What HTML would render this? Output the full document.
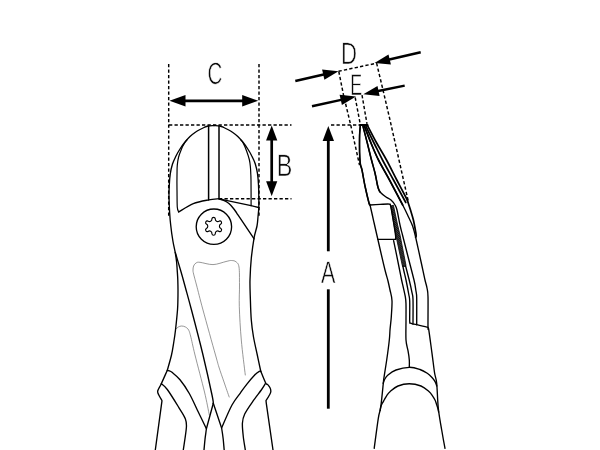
<!DOCTYPE html>
<html lang="en"><head><meta charset="utf-8"><title>Side cutter dimensions</title>
<style>html,body{margin:0;padding:0;background:#fff}body{width:600px;height:450px;overflow:hidden}svg{display:block}</style>
</head><body>
<svg role="img" aria-label="Side cutter dimension drawing with dimensions A, B, C, D and E" width="600" height="450" viewBox="0 0 600 450">
<rect width="600" height="450" fill="#fff"/>
<g fill="none" stroke="#000" stroke-width="1.45" stroke-dasharray="3.3 2.2">
<path d="M168.7,64.0L168.7,216.0"/>
<path d="M259.0,64.0L259.0,216.7"/>
<path d="M169.0,125.0L291.5,125.0"/>
<path d="M219.0,198.7L291.5,198.7"/>
<path d="M331.0,125.0L360.0,125.0"/>
<path d="M338.5,71.3L376.6,63.2"/>
<path d="M338.8,71.5L343.5,95.0L350.7,125.0L359.5,165.0"/>
<path d="M376.6,63.2L383.0,90.0L390.0,120.0L399.0,160.0L408.2,201.0"/>
<path d="M355.2,97.5L360.2,123.9"/>
<path d="M362.0,95.0L367.0,123.9"/>
</g>
<g fill="none" stroke="#6a6a6a" stroke-linecap="round">
<path d="M229.2,397.0C228.3,394.5 225.7,387.0 224.0,382.0C222.3,377.0 220.3,371.5 218.9,367.0C217.5,362.5 218.2,364.5 215.5,355.0C212.8,345.5 206.2,321.7 203.0,310.0C199.8,298.3 198.1,291.0 196.5,285.0C194.9,279.0 194.2,276.5 193.6,274.0C193.0,271.5 193.0,271.3 193.0,270.0C193.0,268.7 193.1,267.2 193.6,266.0C194.1,264.8 194.9,263.6 196.0,263.0C197.1,262.4 197.2,262.0 200.0,262.3C202.8,262.6 208.7,264.7 213.0,264.6C217.3,264.5 222.9,262.2 226.0,261.5C229.1,260.8 229.8,260.4 231.5,260.5C233.2,260.6 234.8,260.7 236.0,261.8C237.2,262.9 238.4,263.1 239.0,267.0C239.6,270.9 239.4,278.4 239.5,285.0C239.6,291.6 239.0,297.5 239.3,306.7C239.6,315.9 240.3,328.6 241.3,340.0C242.3,351.4 244.6,369.2 245.3,375.0" stroke-width="0.7"/>
<path d="M176.0,329.0C176.4,328.7 177.4,327.5 178.3,327.0C179.2,326.5 180.3,326.0 181.5,326.0C182.7,326.0 184.3,326.3 185.5,327.0C186.7,327.7 187.8,328.5 188.6,330.0C189.4,331.5 189.5,331.8 190.6,336.0C191.7,340.2 192.7,345.7 195.0,355.0C197.3,364.3 202.1,382.0 204.5,392.0C206.9,402.0 208.5,411.2 209.3,415.0" stroke-width="0.7"/>
</g>
<defs><pattern id="hatch" width="1.5" height="1.5" patternUnits="userSpaceOnUse" patternTransform="rotate(-38)"><rect width="1.5" height="1.5" fill="#555"/><rect width="1.5" height="0.95" fill="#111"/></pattern></defs>
<g fill="url(#hatch)" stroke="#111" stroke-width="0.9" stroke-linejoin="round">
<path d="M390.8,206 L393.4,205.3 L397.6,225 L400,235 L405.9,265 L405.5,266.4 L402.6,266.4 L402.2,265 L395.8,235 L394,225 Z"/>
</g>
<g fill="none" stroke="#000" stroke-linecap="round" stroke-linejoin="round">
<path d="M214.0,125.5C213.0,125.6 209.7,125.7 208.0,126.0C206.3,126.3 205.3,126.9 204.0,127.5C202.7,128.1 201.5,128.7 200.0,129.5C198.5,130.3 196.7,131.3 195.0,132.5C193.3,133.7 191.7,134.9 190.0,136.5C188.3,138.1 186.7,139.9 185.0,142.0C183.3,144.1 181.5,146.7 180.0,149.0C178.5,151.3 177.2,153.5 176.0,156.0C174.8,158.5 173.4,161.1 172.5,164.0C171.6,166.9 170.8,170.2 170.3,173.7C169.8,177.2 169.5,181.2 169.3,185.0C169.1,188.8 168.9,192.2 169.0,196.7C169.1,201.2 169.3,207.3 169.6,212.0C169.9,216.7 170.1,220.2 170.7,225.0C171.2,229.8 172.1,236.3 172.9,241.0C173.7,245.7 174.7,249.5 175.3,253.0C175.9,256.5 176.3,259.2 176.6,262.0C176.9,264.8 177.0,267.0 177.2,270.0C177.4,273.0 177.7,276.7 177.8,280.0C177.9,283.3 178.0,286.7 178.0,290.0C178.0,293.3 178.0,296.7 177.9,300.0C177.8,303.3 177.9,305.0 177.5,310.0C177.1,315.0 176.1,324.7 175.5,330.0C174.9,335.3 174.5,337.8 173.8,342.0C173.1,346.2 172.6,350.3 171.5,355.0C170.4,359.7 168.0,367.8 167.3,370.3" stroke-width="1.35"/>
<path d="M214.0,125.5C215.0,125.6 218.2,125.7 219.8,126.0C221.4,126.3 222.5,126.9 223.8,127.5C225.1,128.1 226.3,128.7 227.8,129.5C229.3,130.3 231.1,131.3 232.8,132.5C234.5,133.7 236.1,134.9 237.8,136.5C239.5,138.1 241.1,139.9 242.8,142.0C244.5,144.1 246.3,146.7 247.8,149.0C249.3,151.3 250.6,153.5 251.8,156.0C253.1,158.5 254.4,161.1 255.3,164.0C256.2,166.9 257.0,170.2 257.5,173.7C258.0,177.2 258.3,181.2 258.5,185.0C258.7,188.8 258.8,192.9 258.8,196.7C258.9,200.5 258.9,204.4 258.8,207.7C258.7,211.0 258.3,213.6 258.0,216.7C257.7,219.8 257.7,222.4 257.0,226.0C256.3,229.6 254.9,232.9 254.0,238.3C253.1,243.7 252.0,251.4 251.3,258.3C250.6,265.2 250.2,273.1 250.0,280.0C249.8,286.9 250.2,293.3 250.4,300.0C250.6,306.7 250.8,313.8 251.3,320.0C251.8,326.2 252.5,331.2 253.5,337.0C254.5,342.8 256.1,349.3 257.3,355.0C258.5,360.7 260.1,368.3 260.7,371.0" stroke-width="1.35"/>
<path d="M187.0,139.8C186.6,140.4 185.2,142.0 184.3,143.5C183.4,145.0 182.4,146.8 181.5,149.0C180.6,151.2 179.3,154.3 178.6,157.0C177.9,159.7 177.6,162.0 177.3,165.0C177.0,168.0 177.1,170.8 177.0,175.0C176.9,179.2 176.9,184.6 177.0,190.0C177.1,195.4 177.0,203.6 177.3,207.3C177.6,211.0 178.5,211.2 178.7,212.0" stroke-width="1.2"/>
<path d="M240.8,139.8C241.2,140.4 242.3,141.3 243.3,143.2C244.3,145.1 245.6,148.3 246.6,151.0C247.6,153.7 248.7,157.0 249.3,159.5C249.9,162.0 250.1,163.6 250.3,166.0C250.6,168.4 250.7,171.7 250.8,174.0C250.9,176.3 250.9,174.7 251.0,180.0C251.1,185.3 251.1,201.4 251.1,205.7" stroke-width="1.2"/>
<path d="M178.7,212.0C181.1,210.6 188.3,205.6 193.3,203.6C198.3,201.6 204.3,200.7 208.6,199.9C212.9,199.1 217.3,198.9 219.0,198.7" stroke-width="1.35"/>
<path d="M219.0,198.8C219.7,199.0 221.6,199.6 223.0,200.2C224.4,200.8 225.9,201.5 227.2,202.3C228.4,203.1 229.5,204.0 230.5,205.0C231.5,206.0 232.4,207.2 233.3,208.3C234.2,209.4 235.0,210.5 235.7,211.5C236.4,212.5 237.0,213.5 237.6,214.4C238.2,215.3 239.2,216.7 239.5,217.2L254.1,238.9" stroke-width="1.35"/>
<path d="M219.0,198.8L251.1,205.7L258.6,207.5" stroke-width="1.35"/>
<path d="M208.6,126.0L208.6,200.0" stroke-width="1.5"/>
<path d="M219.0,126.0L219.0,198.7" stroke-width="1.5"/>
<path d="M175.3,252.5C176.2,255.4 178.9,264.6 180.5,270.0C182.1,275.4 182.9,278.3 184.7,285.0C186.5,291.7 188.4,298.3 191.5,310.0C194.6,321.7 199.6,340.8 203.0,355.0C206.4,369.2 210.3,386.9 212.0,395.0C213.7,403.1 213.1,401.9 213.3,403.3" stroke-width="1.35"/>
<path d="M213.3,403.3L221.6,428.0L221.6,428.0C221.9,429.8 222.8,435.3 223.2,439.0C223.6,442.7 224.0,448.2 224.2,450.0" stroke-width="1.35"/>
<path d="M213.3,403.3L206.4,428.8L206.4,428.8C206.2,430.6 205.4,435.8 205.0,439.3C204.6,442.8 204.2,448.2 204.0,450.0" stroke-width="1.35"/>
<path d="M167.5,370.6C167.8,370.7 168.8,370.6 169.5,370.9C170.2,371.2 170.2,370.8 172.0,372.3C173.8,373.8 177.1,376.2 180.0,379.7C182.9,383.2 186.4,388.4 189.3,393.5C192.2,398.6 194.5,404.1 197.3,410.0C200.2,415.9 204.9,425.7 206.4,428.8" stroke-width="1.35"/>
<path d="M161.3,383.7C162.3,384.7 164.4,385.6 167.3,389.5C170.2,393.4 175.7,402.4 178.7,407.3C181.7,412.2 184.0,415.4 185.3,418.7C186.6,422.0 186.7,422.1 186.4,427.3C186.1,432.5 183.8,446.2 183.3,450.0" stroke-width="1.35"/>
<path d="M167.3,370.3C166.3,372.5 162.8,380.5 161.3,383.7C159.8,386.9 158.8,388.1 158.2,389.7C157.6,391.2 157.3,391.2 157.9,393.0C158.5,394.8 161.3,399.4 162.0,400.7L155.3,450" stroke-width="1.35"/>
<path d="M260.9,371.6C260.6,371.6 260.3,370.7 259.3,371.3C258.3,371.9 256.8,372.8 254.7,375.0C252.6,377.2 249.1,381.3 246.7,384.3C244.3,387.3 242.9,389.4 240.5,392.8C238.1,396.2 235.2,399.1 232.0,405.0C228.8,410.9 223.3,424.2 221.6,428.0" stroke-width="1.35"/>
<path d="M265.3,383.7C264.6,384.8 263.3,387.2 261.3,390.0C259.3,392.8 256.1,396.7 253.3,400.7C250.5,404.7 246.5,410.2 244.7,414.0C242.9,417.8 242.6,419.5 242.4,423.3C242.2,427.1 242.8,432.2 243.3,436.7C243.8,441.1 245.0,447.8 245.3,450.0" stroke-width="1.35"/>
<path d="M260.7,371.0C261.5,373.0 264.6,380.8 265.7,383.0C266.8,385.2 266.8,383.6 267.5,384.4C268.2,385.2 269.4,386.5 270.0,387.7C270.6,388.9 270.9,390.4 270.8,391.7C270.7,393.0 270.1,393.8 269.3,395.3C268.5,396.8 266.6,399.8 266.0,400.7L266.3,403.3L273,450" stroke-width="1.35"/>
<path d="M360.0,124.9L367.5,124.9" stroke-width="2.0"/>
<path d="M360.3,125.7C360.2,127.2 359.7,131.8 359.6,135.0C359.5,138.2 359.5,141.2 359.5,145.0C359.5,148.8 359.6,154.7 359.8,158.0C360.0,161.3 360.1,163.0 360.5,165.0C360.9,167.0 361.2,166.3 362.0,170.0C362.8,173.7 364.0,181.5 365.2,187.0C366.4,192.5 368.2,200.0 369.0,203.0C369.8,206.0 369.2,201.8 370.0,205.0C370.8,208.2 372.7,216.7 374.0,222.5C375.3,228.3 376.2,232.1 378.0,240.0C379.8,247.9 383.3,263.2 385.0,270.0C386.7,276.8 387.2,277.7 388.0,281.0C388.8,284.3 389.3,286.7 390.0,290.0C390.7,293.3 391.8,296.2 392.0,300.7C392.2,305.1 391.6,311.8 391.3,316.7C391.0,321.6 390.3,326.1 390.0,330.0C389.7,333.9 389.9,335.0 389.3,340.0C388.8,345.0 387.6,353.8 386.7,360.0C385.8,366.2 384.6,373.4 384.0,377.3C383.4,381.2 383.8,378.4 383.3,383.3C382.8,388.2 381.6,400.9 380.8,406.7C380.0,412.5 379.4,411.4 378.3,418.3C377.2,425.2 374.9,443.3 374.2,448.3" stroke-width="1.35"/>
<path d="M360.3,125.7C360.2,127.2 359.7,131.8 359.6,135.0C359.5,138.2 359.5,141.2 359.5,145.0C359.5,148.8 359.6,154.7 359.8,158.0C360.0,161.3 360.1,163.0 360.5,165.0C360.9,167.0 361.2,166.3 362.0,170.0C362.8,173.7 364.0,181.5 365.2,187.0C366.4,192.5 368.2,200.0 369.0,203.0C369.8,206.0 369.8,204.7 370.0,205.0" stroke-width="1.55"/>
<path d="M363.0,126.3C363.7,129.1 365.9,137.4 367.3,143.0C368.7,148.6 370.2,155.0 371.5,160.0C372.8,165.0 374.1,169.2 375.0,173.0C375.9,176.8 376.5,180.5 377.0,183.0C377.5,185.5 377.7,186.5 378.2,188.0C378.7,189.5 378.7,190.5 380.0,192.0C381.3,193.5 384.2,195.7 386.0,197.0C387.8,198.3 389.5,198.7 391.0,200.0C392.5,201.3 394.0,203.3 395.0,205.0C396.0,206.7 396.2,206.7 397.0,210.0C397.8,213.3 399.1,220.8 400.0,225.0C400.9,229.2 401.2,230.0 402.5,235.0C403.8,240.0 405.7,247.5 407.6,255.0C409.5,262.5 412.6,274.2 414.0,280.0C415.4,285.8 415.4,287.0 415.8,290.0C416.2,293.0 416.6,292.2 416.7,298.0C416.8,303.8 416.7,320.2 416.7,324.7" stroke-width="1.35"/>
<path d="M363.0,126.3C363.7,129.1 365.9,137.4 367.3,143.0C368.7,148.6 370.2,155.0 371.5,160.0C372.8,165.0 374.1,169.2 375.0,173.0C375.9,176.8 376.5,180.5 377.0,183.0C377.5,185.5 377.7,186.5 378.2,188.0C378.7,189.5 379.7,191.3 380.0,192.0" stroke-width="1.55"/>
<path d="M364.5,126.3C365.6,129.1 368.7,137.4 371.0,143.0C373.3,148.6 375.4,153.8 378.5,160.0C381.6,166.2 385.5,172.5 389.5,180.0C393.5,187.5 399.7,199.2 402.7,205.0C405.7,210.8 406.0,211.5 407.6,215.0C409.2,218.5 411.3,222.3 412.6,226.0C413.9,229.7 414.2,231.0 415.6,237.0C417.0,243.0 419.5,254.8 421.1,262.0C422.7,269.2 424.0,275.7 425.0,280.0C426.0,284.3 426.5,285.2 427.0,288.0C427.5,290.8 427.8,290.1 428.0,296.7C428.2,303.2 427.9,321.9 428.0,327.3C428.1,332.7 428.0,325.0 428.7,329.3C429.4,333.6 431.0,346.0 432.0,353.3C433.0,360.6 433.8,368.0 434.6,373.0C435.4,378.0 436.1,377.4 436.7,383.3C437.3,389.2 437.5,400.5 438.3,408.3C439.1,416.1 440.6,423.3 441.7,430.0C442.8,436.7 444.4,445.2 445.0,448.3" stroke-width="1.35"/>
<path d="M364.5,126.3C365.6,129.1 368.7,137.4 371.0,143.0C373.3,148.6 375.4,153.8 378.5,160.0C381.6,166.2 385.5,172.5 389.5,180.0C393.5,187.5 400.5,200.8 402.7,205.0" stroke-width="1.7"/>
<path d="M366.0,126.3C367.3,129.1 371.2,137.4 374.0,143.0C376.8,148.6 379.2,153.8 382.5,160.0C385.8,166.2 389.6,172.9 393.5,180.0C397.4,187.1 403.8,198.8 405.8,202.5" stroke-width="1.7"/>
<path d="M367.5,125.5C369.0,128.4 373.5,137.2 376.7,143.0C379.9,148.8 383.1,153.8 386.5,160.0C389.9,166.2 393.3,173.3 396.8,180.0C400.3,186.7 405.6,196.7 407.3,200.0" stroke-width="1.7"/>
<path d="M407.3,200.0C407.8,201.7 409.5,206.7 410.5,210.0C411.5,213.3 412.5,216.2 413.4,220.0C414.3,223.8 415.4,230.2 415.9,233.0C416.3,235.8 416.1,235.9 416.1,236.5L415.6,237.2" stroke-width="1.7"/>
<path d="M370.0,205.0C371.7,204.9 377.0,204.6 380.0,204.4C383.0,204.2 386.4,204.0 388.0,204.0C389.6,204.0 389.4,204.2 389.8,204.5C390.2,204.8 390.0,202.6 390.7,206.0C391.4,209.4 393.2,220.0 394.0,225.0C394.8,230.0 395.4,233.6 395.6,236.0C395.9,238.4 395.5,238.8 395.5,239.4" stroke-width="1.35"/>
<path d="M378.0,239.4L395.4,239.4" stroke-width="1.35"/>
<path d="M393.6,240.6C394.5,245.0 397.7,260.4 399.0,267.0C400.3,273.6 400.6,275.1 401.6,280.0C402.7,284.9 404.6,292.6 405.3,296.7C406.0,300.8 405.9,300.7 406.0,304.7C406.1,308.7 406.0,314.8 406.0,320.7C406.0,326.6 405.7,335.0 406.0,340.0C406.3,345.0 407.4,347.4 408.0,350.7C408.6,354.0 409.1,357.2 409.3,360.0C409.5,362.8 409.3,366.1 409.3,367.3" stroke-width="1.35"/>
<path d="M402.8,266.0C403.0,266.8 403.4,268.7 403.9,271.0C404.4,273.3 405.2,276.2 406.0,280.0C406.8,283.8 408.1,290.6 408.7,294.0C409.3,297.4 409.5,296.2 409.7,300.7C409.9,305.2 409.6,317.3 409.7,321.0C409.8,324.7 410.0,322.5 410.5,323.0C411.0,323.5 411.5,323.5 412.5,323.8C413.5,324.1 414.1,324.1 416.7,324.7C419.3,325.3 426.1,326.9 428.0,327.3" stroke-width="1.35"/>
<path d="M405.6,266.0C405.8,266.8 406.3,268.7 406.9,271.0C407.5,273.3 408.3,276.4 409.2,280.0C410.1,283.6 411.4,289.5 412.0,292.7C412.6,295.9 412.8,294.1 413.0,299.3C413.2,304.5 413.0,319.9 413.0,324.0" stroke-width="1.35"/>
<path d="M383.2,383.5C383.4,382.8 383.8,380.9 384.6,379.5C385.4,378.1 386.1,376.6 388.0,375.0C389.9,373.4 392.4,371.3 396.0,370.0C399.6,368.7 405.3,367.4 409.3,367.3C413.3,367.2 417.0,368.5 420.0,369.5C423.0,370.5 425.3,372.0 427.3,373.3C429.3,374.6 430.7,376.1 432.0,377.5C433.3,378.9 434.4,380.4 435.2,381.8C436.0,383.2 436.5,385.3 436.8,386.0" stroke-width="1.35"/>
<path d="M380.2,410.5C380.3,409.9 380.4,407.9 380.8,406.7C381.2,405.5 381.7,404.4 382.3,403.3C382.9,402.2 383.5,401.2 384.2,400.0C384.9,398.8 385.6,397.2 386.6,395.8C387.6,394.4 388.1,393.3 390.0,391.7C391.9,390.1 394.8,387.3 398.0,386.0C401.2,384.7 405.4,383.7 409.2,383.7C413.0,383.7 417.7,384.7 421.0,386.0C424.3,387.3 427.3,390.1 429.2,391.7C431.1,393.3 431.5,394.4 432.5,395.8C433.5,397.2 434.3,398.6 435.0,400.0C435.7,401.4 436.0,402.8 436.5,404.2C437.0,405.6 437.4,407.0 437.8,408.3C438.2,409.6 438.5,411.4 438.6,412.0" stroke-width="1.35"/>
<circle cx="213.9" cy="226.7" r="17.7" stroke-width="1.35"/>
<path d="M211.91,218.89A1.70,1.70 0 0 1 215.29,218.89A2.45,2.45 0 0 0 219.18,221.13A1.70,1.70 0 0 1 220.87,224.06A2.45,2.45 0 0 0 220.87,228.54A1.70,1.70 0 0 1 219.18,231.47A2.45,2.45 0 0 0 215.29,233.71A1.70,1.70 0 0 1 211.91,233.71A2.45,2.45 0 0 0 208.02,231.47A1.70,1.70 0 0 1 206.33,228.54A2.45,2.45 0 0 0 206.33,224.06A1.70,1.70 0 0 1 208.02,221.13A2.45,2.45 0 0 0 211.91,218.89Z" stroke-width="1.15"/>
</g>
<g fill="#000" stroke="none">
<polygon points="169.5,100.8 185.5,106.5 185.5,95.1"/>
<polygon points="258.2,100.8 242.2,106.5 242.2,95.1"/>
<line x1="183.9" y1="100.8" x2="243.8" y2="100.8" stroke="#000" stroke-width="2.65"/>
<polygon points="271.7,125.5 266.1,140.5 277.3,140.5"/>
<polygon points="271.7,196.2 266.1,181.2 277.3,181.2"/>
<line x1="271.7" y1="139.0" x2="271.7" y2="182.7" stroke="#000" stroke-width="2.7"/>
<polygon points="328.3,126.0 334.0,141.0 322.6,141.0"/>
<line x1="328.3" y1="251.3" x2="328.3" y2="139.5" stroke="#000" stroke-width="2.8"/>
<line x1="328.3" y1="289.3" x2="328.3" y2="408.7" stroke="#000" stroke-width="2.8"/>
<polygon points="338.5,71.2 324.4,79.7 322.1,69.6"/>
<line x1="295.3" y1="81.0" x2="324.8" y2="74.3" stroke="#000" stroke-width="2.5"/>
<polygon points="374.5,63.0 388.5,54.4 390.9,64.5"/>
<line x1="420.7" y1="52.3" x2="388.2" y2="59.8" stroke="#000" stroke-width="2.5"/>
<polygon points="356.0,96.5 341.9,105.0 339.6,94.8"/>
<line x1="312.0" y1="106.3" x2="342.3" y2="99.6" stroke="#000" stroke-width="2.5"/>
<polygon points="363.3,94.2 377.5,85.9 379.6,96.1"/>
<line x1="404.7" y1="85.6" x2="377.0" y2="91.3" stroke="#000" stroke-width="2.5"/>
</g>
<g style="opacity:0.999;text-rendering:geometricPrecision" fill="#0a0a0a" stroke="#fff" stroke-width="0.6" font-family="'Liberation Sans', Arial, sans-serif" font-size="30.96">
<text transform="translate(207.45,84.20) scale(0.663,1)">C</text>
<text transform="translate(276.85,175.50) scale(0.756,1)">B</text>
<text transform="translate(340.97,64.20) scale(0.716,1)">D</text>
<text transform="translate(350.27,94.90) scale(0.575,0.962)">E</text>
<text transform="translate(321.05,282.80) scale(0.698,1)">A</text>
</g>
</svg>
</body></html>
